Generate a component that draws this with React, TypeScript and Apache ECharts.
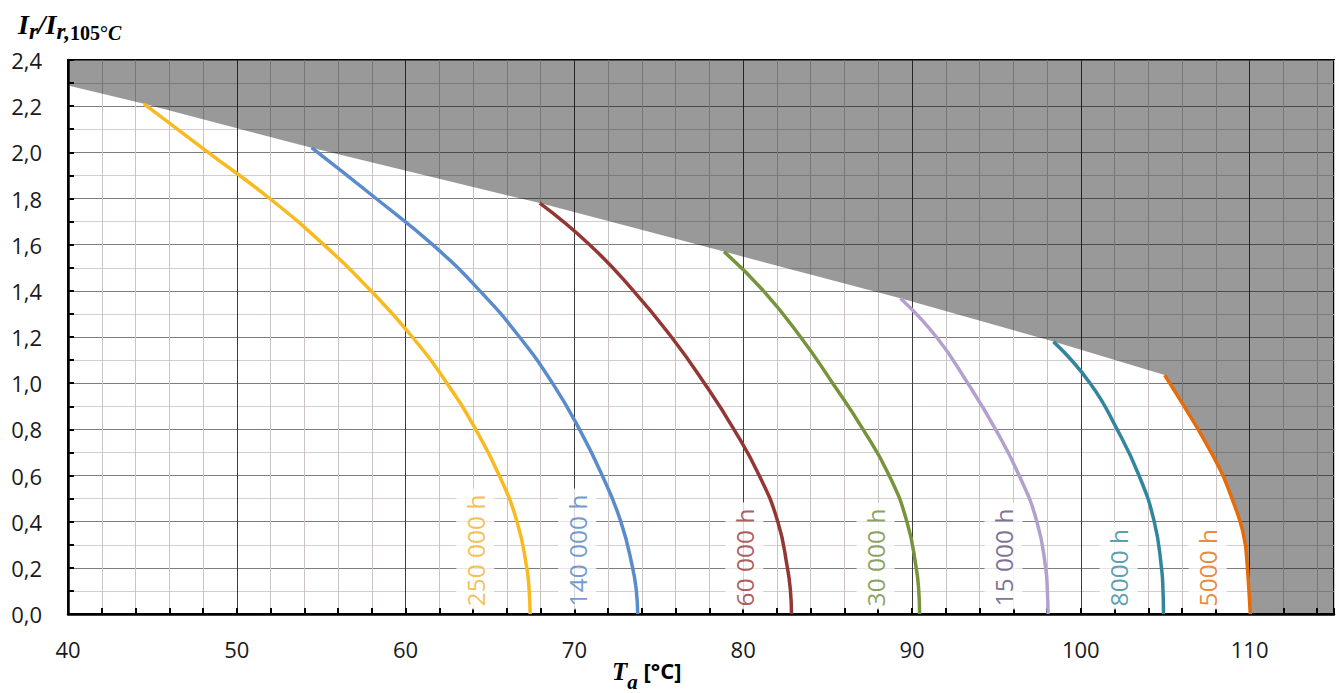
import React, { useEffect, useRef } from 'react';
import * as echarts from 'echarts';

// Curves: [T_a (°C), I_r / I_r,105°C]
const curve250k = [[44.5, 2.21], [48.3, 2.0], [51.95, 1.8], [55.15, 1.6], [57.95, 1.4], [60.4, 1.2], [62.45, 1.0], [64.15, 0.8], [65.55, 0.6], [66.6, 0.4], [67.18, 0.2], [67.32, 0.1], [67.38, 0]];
const curve140k = [[54.43, 2.02], [58.25, 1.8], [61.6, 1.6], [64.4, 1.4], [66.75, 1.2], [68.7, 1.0], [70.3, 0.8], [71.65, 0.6], [72.75, 0.4], [73.45, 0.2], [73.67, 0.1], [73.75, 0]];
const curve60k = [[67.95, 1.78], [70.9, 1.6], [73.5, 1.4], [75.75, 1.2], [77.7, 1.0], [79.45, 0.8], [80.95, 0.6], [82.05, 0.4], [82.62, 0.2], [82.8, 0.1], [82.86, 0]];
const curve30k = [[78.86, 1.57], [81.2, 1.4], [83.4, 1.2], [85.3, 1.0], [87.1, 0.8], [88.65, 0.6], [89.7, 0.4], [90.25, 0.2], [90.4, 0.1], [90.45, 0]];
const curve15k = [[89.31, 1.368], [91.45, 1.2], [93.3, 1.0], [94.95, 0.8], [96.35, 0.6], [97.4, 0.4], [97.92, 0.2], [98.02, 0.1], [98.06, 0]];
const curve8k = [[98.38, 1.18], [100.55, 1.0], [102.15, 0.8], [103.45, 0.6], [104.35, 0.4], [104.78, 0.2], [104.87, 0.1], [104.9, 0]];
const curve5k = [[104.97, 1.035], [106.95, 0.8], [108.42, 0.6], [109.4, 0.41], [109.75, 0.3], [109.92, 0.15], [110.04, 0]];

const curveNames = ['250 000 h', '140 000 h', '60 000 h', '30 000 h', '15 000 h', '8000 h', '5000 h'];
const curveColors = ['#F8BA1F', '#5A8BCB', '#943634', '#77933C', '#B4A0CF', '#31859C', '#E46C0A'];
const labelColors = ['#F2B02A', '#4F7FC0', '#943634', '#6B8A35', '#604A7B', '#31859C', '#E46C0A'];
const labelX = [64.13, 70.17, 80.07, 87.84, 95.42, 102.24, 107.52];

// Limit boundary (grey region above)
const boundaryStart = [40, 2.29];
const boundaryEnd = [115, 0];

const xTickLabels = ['40', '50', '60', '70', '80', '90', '100', '110'];

export default function App() {
  const ref = useRef<HTMLDivElement>(null);

  useEffect(() => {
    if (!ref.current) return;
    const chart = echarts.init(ref.current, undefined, { renderer: 'svg' });
    const curves = [curve250k, curve140k, curve60k, curve30k, curve15k, curve8k, curve5k];
    const boundary = [boundaryStart, ...curves.map((c) => c[0]), ...curve5k.slice(1), boundaryEnd];

    const labelFont = 'Open Sans, Noto Sans, sans-serif';
    const serif = 'Liberation Serif, DejaVu Serif, serif';

    const main = (size: number) => ({ fontFamily: serif, fontStyle: 'italic', fontWeight: 'bold', fontSize: size, lineHeight: 28, verticalAlign: 'top', fill: '#000' });
    const sub = (size: number, italic: boolean) => ({ fontFamily: serif, fontStyle: italic ? 'italic' : 'normal', fontWeight: 'bold', fontSize: size, lineHeight: 33, verticalAlign: 'bottom', fill: '#000' });

    chart.setOption({
      animation: false,
      grid: {
        left: 68,
        right: 5,
        top: 60,
        bottom: 79,
        show: true,
        borderColor: '#000',
        borderWidth: 2,
        backgroundColor: 'transparent',
      },
      xAxis: {
        type: 'value',
        min: 40,
        max: 115,
        interval: 2,
        axisLine: { show: true, onZero: false, lineStyle: { color: '#000', width: 2.5 } },
        axisTick: { show: true, inside: true, length: 6, lineStyle: { color: '#000', width: 2 } },
        axisLabel: {
          margin: 24,
          fontSize: 22,
          fontFamily: labelFont,
          color: '#1a1a1a',
          formatter: (v: number) => {
            const s = String(Math.round(v));
            return Math.round(v) % 10 === 0 && xTickLabels.includes(s) ? s : '';
          },
        },
        splitLine: {
          show: true,
          lineStyle: { color: ['#3c3c3c', '#cbc4c4', '#cbc4c4', '#cbc4c4', '#cbc4c4'], width: 1 },
        },
      },
      yAxis: {
        type: 'value',
        min: 0,
        max: 2.4,
        interval: 0.1,
        axisLine: { show: true, onZero: false, lineStyle: { color: '#000', width: 2.5 } },
        axisTick: { show: true, inside: true, length: 6, lineStyle: { color: '#000', width: 2 } },
        axisLabel: {
          margin: 26,
          fontSize: 22,
          fontFamily: labelFont,
          color: '#1a1a1a',
          formatter: (v: number) => {
            const k = Math.round(v * 10);
            return k % 2 === 0 ? (k / 10).toFixed(1).replace('.', ',') : '';
          },
        },
        splitLine: {
          show: true,
          lineStyle: { color: ['#7d7d7d', '#d4cdcd'], width: 1 },
        },
      },
      graphic: [
        {
          type: 'text',
          left: 18,
          top: 10,
          style: {
            text: '{m|I}{s|r}{m|/I}{s|r,}{n|105°}{c|C}',
            rich: {
              m: main(28),
              s: sub(23, true),
              n: sub(20, false),
              c: sub(20, true),
            },
          },
        },
        {
          type: 'text',
          left: 612,
          top: 659,
          style: {
            text: '{m|T}{s|a}{u| [°C]}',
            rich: {
              m: main(25),
              s: sub(21, true),
              u: { fontFamily: labelFont, fontWeight: 'bold', fontSize: 22, lineHeight: 28, verticalAlign: 'top', fill: '#000' },
            },
          },
        },
      ],
      series: [
        {
          type: 'line',
          data: boundary,
          symbol: 'none',
          silent: true,
          z: 1,
          lineStyle: { width: 0, opacity: 0 },
          areaStyle: { color: 'rgba(0,0,0,0.4)', origin: 'end', opacity: 1 },
        },
        ...curves.map((c, i) => ({
          type: 'line',
          name: curveNames[i],
          data: c,
          symbol: 'none',
          smooth: i === 6 ? 0.2 : 0.5,
          silent: true,
          z: 3,
          lineStyle: { color: curveColors[i], width: 3.5 },
        })),
        {
          type: 'scatter',
          symbolSize: 0,
          silent: true,
          z: 4,
          data: curveNames.map((n, i) => ({
            name: n,
            value: [labelX[i], 0.02],
            label: { color: labelColors[i] },
          })),
          label: {
            show: true,
            position: 'inside',
            formatter: (p: any) => p.name,
            rotate: 90,
            align: 'left',
            verticalAlign: 'middle',
            fontSize: 24.5,
            fontFamily: labelFont,
            lineHeight: 26,
            backgroundColor: '#ffffff',
            padding: [6, 6, 6, 3],
          },
        },
      ],
    });

    return () => chart.dispose();
  }, []);

  return (
    <div
      ref={ref}
      style={{ position: 'fixed', left: 0, top: 0, width: 1339, height: 693, background: '#fff' }}
    />
  );
}
